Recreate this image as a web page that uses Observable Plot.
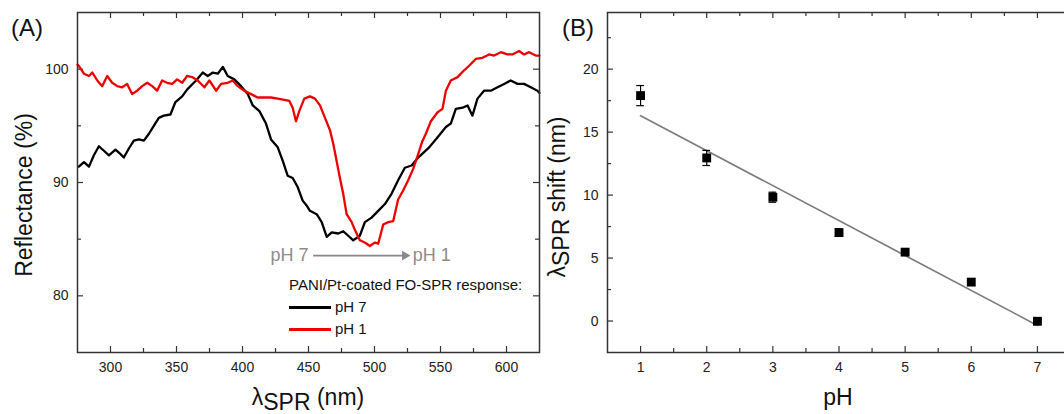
<!DOCTYPE html>
<html><head><meta charset="utf-8">
<script src="https://cdn.jsdelivr.net/npm/d3@7"></script>
<script src="https://cdn.jsdelivr.net/npm/@observablehq/plot@0.6"></script>
<style>
html,body{margin:0;padding:0;background:#fff;overflow:hidden;width:1064px;height:414px;}
#wrap{position:relative;width:1064px;height:414px;overflow:hidden;font-family:"Liberation Sans",Arial,sans-serif;color:#111;}
.panel{position:absolute;top:0;}
.t{position:absolute;white-space:nowrap;line-height:1;}
.rot{transform:translate(-50%,-50%) rotate(-90deg);}
.ctr{transform:translateX(-50%);}
.sw{position:absolute;height:3px;width:42px;}
</style>
</head><body>
<div id="wrap">
  <div id="pa" class="panel" style="left:0;width:560px;height:414px"></div>
  <div id="pb" class="panel" style="left:545px;width:535px;height:414px"></div>

  <div class="t" style="left:11px;top:16px;font-size:24px">(A)</div>
  <div class="t" style="left:562px;top:16px;font-size:24px">(B)</div>

  <div class="t rot" style="left:24px;top:195px;font-size:23px">Reflectance (%)</div>
  <div class="t ctr" style="left:308px;top:386px;font-size:23px">λ<span style="position:relative;top:5px">SPR</span> (nm)</div>

  <div class="t rot" style="left:557px;top:197px;font-size:23px">λ<span style="position:relative;top:4px">SPR</span> shift (nm)</div>
  <div class="t ctr" style="left:838px;top:386px;font-size:23px">pH</div>

  <div class="t" style="left:289px;top:277px;font-size:15px;line-height:16px">PANI/Pt-coated FO-SPR response:</div>
  <div class="sw" style="left:289px;top:306px;background:#000"></div>
  <div class="t" style="left:335px;top:299px;font-size:15px;line-height:16px">pH 7</div>
  <div class="sw" style="left:289px;top:328px;background:#e00"></div>
  <div class="t" style="left:335px;top:321px;font-size:15px;line-height:16px">pH 1</div>
</div>
<script>
// ---------- Panel A data: reflectance spectra ----------
const wlPH7 = [276,279.9,283.7,287.4,291.2,295,298.8,303.8,307.6,310.1,313.9,317.7,321.5,325.3,329.1,332.8,336.6,340.4,345.4,349.2,354.3,358,363.1,364.9,369.9,373.7,377.5,381.3,385.1,388.8,393.8,398.9,404,407.8,412.8,417.8,421.6,426.7,430.5,434.2,438,441.8,445.6,449,451.1,456.2,460,463.8,467.6,472.6,476.3,480.1,483.9,488.9,492.7,497.8,502.8,507.9,512.9,517.9,523,528.1,533.1,541.4,547.8,554.1,557.8,561.6,566.7,570.5,574.2,578,583,588.1,593.2,598.2,603.2,608.3,613.3,618.4,623.4,625];
const rPH7  = [91.4,91.8,91.4,92.4,93.2,92.8,92.4,92.9,92.5,92.2,93.0,93.7,93.8,93.7,94.3,95.0,95.7,95.9,96.0,97.1,97.6,98.2,98.8,99.0,99.7,99.4,99.7,99.6,100.2,99.4,99.1,98.5,97.8,96.8,96.3,95.2,93.8,93.1,91.9,90.6,90.4,89.6,88.4,87.9,87.5,87.2,86.5,85.2,85.6,85.5,85.7,85.3,84.9,85.3,86.5,86.9,87.5,88.1,89.0,90.2,91.3,91.5,92.2,93.1,94.0,94.9,95.2,96.5,96.6,96.8,95.9,97.4,98.1,98.1,98.4,98.7,99.0,98.7,98.7,98.4,98.1,97.9];

const wlPH1 = [275,276,279.9,283.7,286.2,290,293.7,297.5,301.3,305.1,308.9,312.6,316.4,320.2,324,327.8,331.6,335.3,339.1,342.9,346.7,350.5,354.3,358,361.8,366.1,371.1,374.9,380,383.8,388.8,392.6,396.4,401.4,406.5,411.5,416.5,421.6,426.7,431.7,435.5,438,440.5,443,446.8,451.1,454.9,458.7,462.5,466.3,468.8,471.3,473.8,476.3,478.9,482.7,485.2,488.9,492.7,496.5,500.3,502.8,506.6,510.4,514.2,517.9,521.7,525.5,529.3,533.1,536.1,538.9,542.7,547.8,551.5,554.1,557.8,562.9,567.9,571.7,576.7,581.8,586.8,590.6,595.7,600.7,604.5,609.5,613.3,617.1,622.2,625];
const rPH1  = [100.4,100.3,99.6,99.4,99.7,99.0,98.5,99.4,98.8,98.5,98.4,98.7,97.8,98.1,98.5,98.8,98.5,98.1,99.0,98.8,98.7,99.1,98.8,99.4,99.3,99.0,98.4,99.0,98.1,98.7,98.8,99.0,98.5,98.1,97.8,97.5,97.5,97.5,97.4,97.3,97.2,96.6,95.4,96.3,97.4,97.6,97.4,96.8,95.7,94.6,93.4,91.9,90.4,89.0,87.2,86.5,85.8,84.9,84.7,84.4,84.7,84.6,86.3,86.5,86.6,88.5,89.3,90.2,91.2,92.5,93.6,94.3,95.4,96.2,96.5,98.1,99.0,99.3,99.9,100.3,100.9,101.0,101.3,101.2,101.5,101.3,101.3,101.6,101.3,101.5,101.2,101.2];

const xTicksA = [300,350,400,450,500,550,600];
const xMinorA = [325,375,425,475,525,575];
const yTicksA = [80,90,100];
const yMinorA = [85,95];

// annotation (pH 7 -> pH 1 arrow)
const arrowFrom = {x: 453.5, y: 83.55};
const arrowTo   = {x: 524.5, y: 83.55};
const labelFrom = [{x: 450, y: 83.55, t: "pH 7"}];
const labelTo   = [{x: 529, y: 83.55, t: "pH 1"}];

// ---------- Panel B data: shift vs pH ----------
const pH       = [1, 2, 3, 4, 5, 6, 7];
const shiftNm  = [17.9, 12.95, 9.83, 7.02, 5.47, 3.09, -0.02];
const shiftErr = [0.8, 0.6, 0.4, 0.3, 0.15, 0.15, 0.1];
const fitPH    = [1, 7];
const fitShift = [16.3, -0.35];

const xTicksB = [1,2,3,4,5,6,7];
const xMinorB = [1.5,2.5,3.5,4.5,5.5,6.5];
const yTicksB = [0,5,10,15,20];
const yMinorB = [2.5,7.5,12.5,17.5,22.5];

const FONT = '"Liberation Sans", Arial, sans-serif';
const AX = "#333";

function frameTicks(xMaj, xMin, yMaj, yMin, pw, ph) {
  const s = {stroke: AX, strokeWidth: 1.2};
  return [
    Plot.ruleX(xMaj, {...s, insetTop: ph - 6}),
    Plot.ruleX(xMaj, {...s, insetBottom: ph - 6}),
    Plot.ruleX(xMin, {...s, insetTop: ph - 4}),
    Plot.ruleX(xMin, {...s, insetBottom: ph - 4}),
    Plot.ruleY(yMaj, {...s, insetRight: pw - 6}),
    Plot.ruleY(yMaj, {...s, insetLeft: pw - 6}),
    Plot.ruleY(yMin, {...s, insetRight: pw - 4}),
    Plot.ruleY(yMin, {...s, insetLeft: pw - 4})
  ];
}

// Panel A
{
  const W = 560, H = 414, ml = 77, mr = 21, mt = 12, mb = 62;
  const pw = W - ml - mr, ph = H - mt - mb;
  const black = wlPH7.map((x, i) => ({x, y: rPH7[i]}));
  const red = wlPH1.map((x, i) => ({x, y: rPH1[i]}));
  const svg = Plot.plot({
    width: W, height: H, marginLeft: ml, marginRight: mr, marginTop: mt, marginBottom: mb,
    style: {fontFamily: FONT, fontSize: "14px", color: "#222", background: "transparent"},
    x: {domain: [275, 625], ticks: xTicksA, tickSize: 0, tickPadding: 10, label: null, tickFormat: d3.format("d")},
    y: {domain: [75, 105], ticks: yTicksA, tickSize: 0, tickPadding: 9, label: null, tickFormat: d3.format("d")},
    marks: [
      ...frameTicks(xTicksA, xMinorA, yTicksA, yMinorA, pw, ph),
      Plot.line(black, {x: "x", y: "y", stroke: "#000", strokeWidth: 2.3}),
      Plot.line(red, {x: "x", y: "y", stroke: "#e00", strokeWidth: 2.3}),
      Plot.link([{a: arrowFrom, b: arrowTo}], {x1: d => d.a.x, y1: d => d.a.y, x2: d => d.b.x, y2: d => d.b.y, stroke: "#888", strokeWidth: 1.6}),
      Plot.dot([arrowTo], {x: "x", y: "y", symbol: "triangle", rotate: 90, r: 3.6, fill: "#888", dx: -2}),
      Plot.text(labelFrom, {x: "x", y: "y", text: "t", textAnchor: "end", fill: "#8c8c8c", fontSize: 18, fontFamily: FONT}),
      Plot.text(labelTo, {x: "x", y: "y", text: "t", textAnchor: "start", fill: "#8c8c8c", fontSize: 18, fontFamily: FONT}),
      Plot.frame({stroke: AX, strokeWidth: 1.5})
    ]
  });
  document.getElementById("pa").append(svg);
}

// Panel B
{
  const W = 535, H = 414, ml = 62, mr = 10, mt = 12, mb = 62;
  const pw = W - ml - mr, ph = H - mt - mb;
  const pts = pH.map((x, i) => ({x, y: shiftNm[i], e: shiftErr[i]}));
  const fit = fitPH.map((x, i) => ({x, y: fitShift[i]}));
  const cap = 0.058;
  const svg = Plot.plot({
    width: W, height: H, marginLeft: ml, marginRight: mr, marginTop: mt, marginBottom: mb,
    style: {fontFamily: FONT, fontSize: "14px", color: "#222", background: "transparent"},
    x: {domain: [0.5, 7.5], ticks: xTicksB, tickSize: 0, tickPadding: 10, label: null, tickFormat: d3.format("d")},
    y: {domain: [-2.5, 24.5], ticks: yTicksB, tickSize: 0, tickPadding: 9, label: null, tickFormat: d3.format("d")},
    marks: [
      ...frameTicks(xTicksB, xMinorB, yTicksB, yMinorB, pw, ph),
      Plot.line(fit, {x: "x", y: "y", stroke: "#7d7d7d", strokeWidth: 1.7}),
      Plot.ruleX(pts, {x: "x", y1: d => d.y - d.e, y2: d => d.y + d.e, stroke: "#000", strokeWidth: 1.2}),
      Plot.ruleY(pts, {y: d => d.y + d.e, x1: d => d.x - cap, x2: d => d.x + cap, stroke: "#000", strokeWidth: 1.2}),
      Plot.ruleY(pts, {y: d => d.y - d.e, x1: d => d.x - cap, x2: d => d.x + cap, stroke: "#000", strokeWidth: 1.2}),
      Plot.dot(pts, {x: "x", y: "y", symbol: "square", r: 5, fill: "#000"}),
      Plot.frame({stroke: AX, strokeWidth: 1.5})
    ]
  });
  document.getElementById("pb").append(svg);
}
</script>
</body></html>
